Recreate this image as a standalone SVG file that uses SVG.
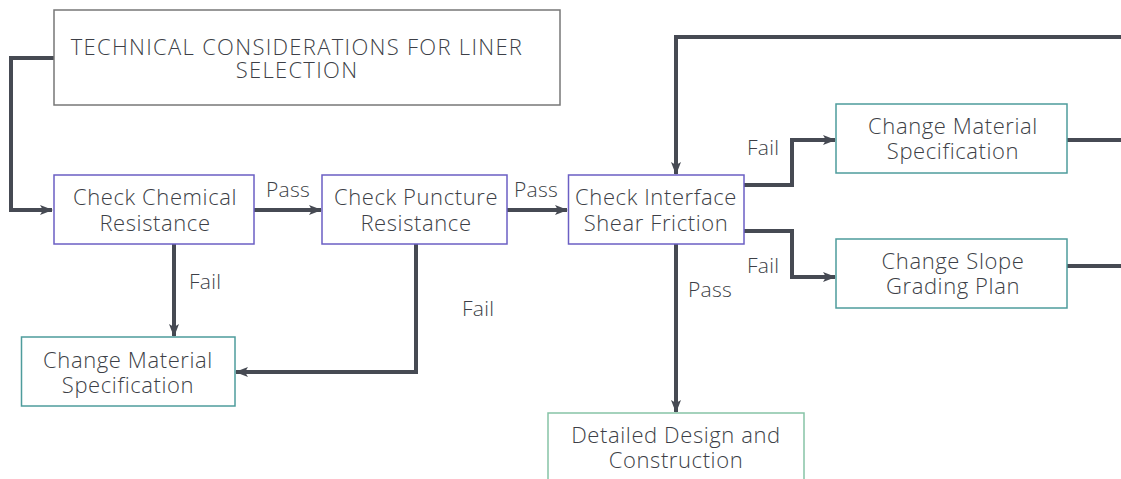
<svg xmlns="http://www.w3.org/2000/svg" width="1121" height="479" viewBox="0 0 1121 479">
<style>
text{font-family:"Open Sans","Liberation Sans",sans-serif;font-weight:300;fill:#3d3f47;font-size:22px;letter-spacing:0.6px}
.c{text-anchor:middle}
.t{font-size:22px;letter-spacing:1.3px}
.title{fill:#fff;stroke:#777;stroke-width:1.5}
.chk{fill:#fff;stroke:#6b5fc4;stroke-width:1.5}
.chg{fill:#fff;stroke:#4e9c9c;stroke-width:1.5}
.fin{fill:#fff;stroke:#86c3a6;stroke-width:1.5}
.ln{fill:none;stroke:#464a53;stroke-width:4}
.lab{font-size:21px;letter-spacing:0.3px}
</style>
<defs>
<marker id="ah" viewBox="0 0 13 10" refX="12" refY="5" markerWidth="13" markerHeight="10" markerUnits="userSpaceOnUse" orient="auto">
<path d="M0,0 L13,5 L0,10 L3,5 z" fill="#464a53"/>
</marker>
</defs>
<g id="connectors">
<path class="ln" d="M54,58 H11 V210 H52" marker-end="url(#ah)"/>
<path class="ln" d="M254,210 H321" marker-end="url(#ah)"/>
<path class="ln" d="M507,210 H567" marker-end="url(#ah)"/>
<path class="ln" d="M174,244 V336" marker-end="url(#ah)"/>
<path class="ln" d="M416,244 V372 H236" marker-end="url(#ah)"/>
<path class="ln" d="M1125,37 H676 V174" marker-end="url(#ah)"/>
<path class="ln" d="M744,185 H792 V140 H835" marker-end="url(#ah)"/>
<path class="ln" d="M744,231 H792 V277 H835" marker-end="url(#ah)"/>
<path class="ln" d="M676,244 V412" marker-end="url(#ah)"/>
<path class="ln" d="M1067,140 H1125"/>
<path class="ln" d="M1067,266 H1125"/>
<text class="lab" x="266" y="197">Pass</text>
<text class="lab" x="514" y="197">Pass</text>
<text class="lab" x="189" y="289">Fail</text>
<text class="lab" x="462" y="316">Fail</text>
<text class="lab" x="747" y="155">Fail</text>
<text class="lab" x="747" y="273">Fail</text>
<text class="lab" x="688" y="297">Pass</text>
</g>
<g id="title">
<rect class="title" x="54" y="10" width="506" height="95"/>
<text class="c t" x="297" y="55">TECHNICAL CONSIDERATIONS FOR LINER</text>
<text class="c t" x="297" y="78">SELECTION</text>
</g>
<g id="chem">
<rect class="chk" x="54" y="175" width="200" height="69"/>
<text class="c" x="155" y="205">Check Chemical</text>
<text class="c" x="155" y="231">Resistance</text>
</g>
<g id="punct">
<rect class="chk" x="322" y="175" width="185" height="69"/>
<text class="c" x="416" y="205">Check Puncture</text>
<text class="c" x="416" y="231">Resistance</text>
</g>
<g id="iface">
<rect class="chk" x="568.5" y="175" width="175.5" height="69"/>
<text class="c" x="656" y="205">Check Interface</text>
<text class="c" x="656" y="231">Shear Friction</text>
</g>
<g id="chgmat1">
<rect class="chg" x="836" y="104" width="231" height="69"/>
<text class="c" x="953" y="134">Change Material</text>
<text class="c" x="953" y="159">Specification</text>
</g>
<g id="chgslope">
<rect class="chg" x="836" y="239" width="231" height="69"/>
<text class="c" x="953" y="269">Change Slope</text>
<text class="c" x="953" y="294">Grading Plan</text>
</g>
<g id="chgmat2">
<rect class="chg" x="21.5" y="337" width="213.5" height="69"/>
<text class="c" x="128" y="368">Change Material</text>
<text class="c" x="128" y="393">Specification</text>
</g>
<g id="detail">
<rect class="fin" x="548" y="413" width="256" height="80"/>
<text class="c" x="676" y="443">Detailed Design and</text>
<text class="c" x="676" y="468">Construction</text>
</g>
</svg>
